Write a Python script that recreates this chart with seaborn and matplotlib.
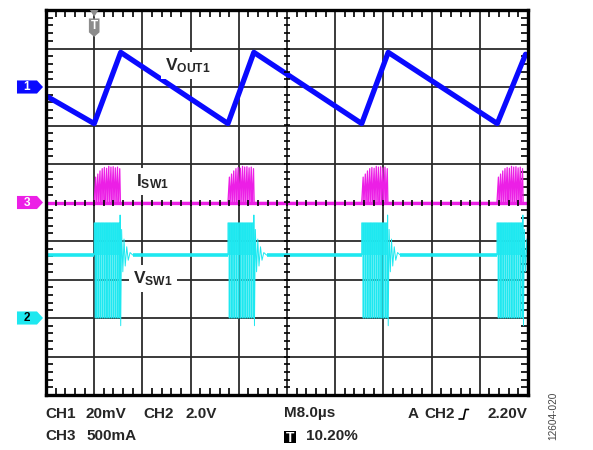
import numpy as np
import matplotlib.pyplot as plt
import matplotlib.transforms as mtransforms
from matplotlib.patches import Polygon, Rectangle
from matplotlib.lines import Line2D
from matplotlib.ticker import MultipleLocator
import seaborn as sns

sns.set_style("white")
plt.rcParams["font.family"] = ["Liberation Sans", "DejaVu Sans"]
plt.rcParams["mathtext.fontset"] = "custom"
plt.rcParams["mathtext.bf"] = "Liberation Sans:bold"
plt.rcParams["mathtext.rm"] = "Liberation Sans"

# scope settings
US_PER_DIV = 8.0
CH1_MV_PER_DIV, CH1_POS = 20.0, 8.0
CH2_V_PER_DIV, CH2_POS = 2.0, 2.0
CH3_MA_PER_DIV, CH3_POS = 500.0, 5.0
TRIG_DIV = 1.0

BLUE = "#0a0aff"
CYAN = "#1ee8f0"
MAGENTA = "#ec1fe6"

# VOUT1 sawtooth corners (us, mV)
vout_t = [0.0, 8.0, 12.4, 30.2, 34.5, 52.4, 56.8, 74.9, 79.6]
vout_mv = [-4.6, -19.0, 18.0, -19.0, 18.0, -19.0, 18.0, -19.0, 17.0]

# start of each switching burst (us)
burst_t = [8.0, 30.2, 52.4, 74.85]

# pulses inside one burst: start offset (us) and peak inductor current (mA)
pulse_t = [0.00, 0.36, 0.72, 1.09, 1.45, 1.82, 2.18, 2.54, 2.91, 3.27, 3.63, 4.00]
pulse_ma = [330, 370, 410, 440, 455, 445, 470, 460, 465, 450, 460, 440]
pulse_on = 0.24

# switch node levels (V)
vsw_idle = 3.27
vsw_high = 4.94
vsw_low = 0.0

# switch node ringing after the last pulse (us offset, V)
ring_t = [4.30, 4.40, 4.55, 4.75, 4.95, 5.15, 5.40, 5.65, 5.95, 6.40]
ring_v = [5.35, -0.40, 4.60, 2.40, 4.10, 2.70, 3.70, 3.00, 3.40, 3.27]


def to_div(t):
    return np.asarray(t) / US_PER_DIV


fig = plt.figure(figsize=(5.93, 4.5), dpi=100)
ax = fig.add_axes([46 / 593, 55 / 450, 482 / 593, 385 / 450])
ax.set_xlim(0, 10)
ax.set_ylim(0, 10)

# graticule
ax.set_xticks(range(11))
ax.set_yticks(range(11))
ax.grid(True, color="#2b2b2b", lw=1.3, zorder=0)
ax.xaxis.set_minor_locator(MultipleLocator(0.2))
ax.yaxis.set_minor_locator(MultipleLocator(0.2))
ax.tick_params(which="major", length=0, labelbottom=False, labelleft=False)
ax.tick_params(which="minor", direction="in", length=5, width=1.2, color="black",
               top=True, right=True, bottom=True, left=True)
for sp in ax.spines.values():
    sp.set_linewidth(2.4)
    sp.set_color("black")
    sp.set_zorder(6)
cross = np.arange(0.2, 10, 0.2)
ax.plot(cross, np.full_like(cross, 5.0), ls="none", marker="|", ms=5, mew=1.2, color="black", zorder=5)
ax.plot(np.full_like(cross, 5.0), cross, ls="none", marker="_", ms=5, mew=1.2, color="black", zorder=5)

# CH1: VOUT1
sns.lineplot(x=to_div(vout_t), y=CH1_POS + np.array(vout_mv) / CH1_MV_PER_DIV,
             sort=False, estimator=None, color=BLUE, lw=3.8, ax=ax, zorder=3)

# CH2: VSW1 and CH3: ISW1, built burst by burst
vt, vv = [0.0], [vsw_idle]
it, iv = [], []
for b in burst_t:
    vt.append(b)
    vv.append(vsw_idle)
    for p, pk in zip(pulse_t, pulse_ma):
        vt += [b + p, b + p, b + p + pulse_on, b + p + pulse_on]
        vv += [vv[-1], vsw_high, vsw_high, vsw_low]
        it += [b + p, b + p + pulse_on, b + p + pulse_on + 0.11]
        iv += [0.0, pk, 0.0]
    for rt, rv in zip(ring_t, ring_v):
        vt.append(b + rt)
        vv.append(rv)

sns.lineplot(x=to_div(vt), y=CH2_POS + np.array(vv) / CH2_V_PER_DIV,
             sort=False, estimator=None, color=CYAN, lw=0.7, ax=ax, zorder=3)
idle_start = [0.0] + [b + ring_t[-1] for b in burst_t[:-1]]
idle_end = burst_t
ax.hlines(np.full(len(idle_end), CH2_POS + vsw_idle / CH2_V_PER_DIV),
          to_div(idle_start), to_div(idle_end), color=CYAN, lw=2.6, zorder=3)
for b in burst_t:
    ax.fill_between(to_div([b, b + pulse_t[-1] + pulse_on]),
                    CH2_POS + vsw_idle / CH2_V_PER_DIV, CH2_POS + vsw_high / CH2_V_PER_DIV,
                    color=CYAN, lw=0, alpha=0.9, zorder=3)
    ax.fill_between(to_div([b, b + pulse_t[-1] + pulse_on]),
                    CH2_POS + vsw_low / CH2_V_PER_DIV, CH2_POS + vsw_idle / CH2_V_PER_DIV,
                    color=CYAN, lw=0, alpha=0.35, zorder=3)

ax.axhline(CH3_POS, color=MAGENTA, lw=2.4, zorder=3)
ax.fill(to_div(it), CH3_POS + np.array(iv) / CH3_MA_PER_DIV, color=MAGENTA, alpha=0.5, lw=0, zorder=3)
sns.lineplot(x=to_div(it), y=CH3_POS + np.array(iv) / CH3_MA_PER_DIV,
             sort=False, estimator=None, color=MAGENTA, lw=0.9, ax=ax, zorder=3)

# trace labels
lab = dict(fontsize=12.5, va="baseline", ha="left", zorder=4,
           bbox=dict(fc="white", ec="none", pad=3))
ax.text(2.47, 8.44, r"$\mathbf{V_{OUT1}}$", **lab)
ax.text(1.87, 5.43, r"$\mathbf{I_{SW1}}$", **lab)
ax.text(1.80, 2.91, r"$\mathbf{V_{SW1}}$", **lab)

# channel markers on the left
tr = mtransforms.blended_transform_factory(ax.transAxes, ax.transData)
x0, x1, x2, h = -0.0602, -0.0187, -0.0062, 0.17
for pos, name, fc, tc in [(CH1_POS, "1", BLUE, "white"), (CH3_POS, "3", MAGENTA, "white"),
                          (CH2_POS, "2", CYAN, "black")]:
    ax.add_patch(Polygon([(x0, pos - h), (x1, pos - h), (x2, pos), (x1, pos + h), (x0, pos + h)],
                         closed=True, fc=fc, ec="none", transform=tr, clip_on=False))
    ax.text((x0 + x1) / 2, pos, name, transform=tr, color=tc, fontsize=8.5,
            fontweight="bold", ha="center", va="center")

# trigger marker on top
tt = mtransforms.blended_transform_factory(ax.transData, ax.transAxes)
w = 0.11
ax.add_patch(Polygon([(TRIG_DIV - w * 0.8, 1.0), (TRIG_DIV + w * 0.8, 1.0), (TRIG_DIV, 0.982)],
                     closed=True, fc="#8c8c8c", ec="none", transform=tt, clip_on=False, zorder=7))
ax.add_patch(Polygon([(TRIG_DIV - w, 0.978), (TRIG_DIV + w, 0.978), (TRIG_DIV + w, 0.942),
                      (TRIG_DIV, 0.930), (TRIG_DIV - w, 0.942)],
                     closed=True, fc="#8c8c8c", ec="none", transform=tt, clip_on=False, zorder=7))
ax.text(TRIG_DIV, 0.958, "T", transform=tt, color="white", fontsize=8.5, fontweight="bold",
        ha="center", va="center", zorder=8)


# readout text under the screen
def ftext(px, py, s, **kw):
    kw.setdefault("fontsize", 11)
    kw.setdefault("fontweight", "bold")
    kw.setdefault("va", "center")
    fig.text(px / 593, 1 - py / 450, s, **kw)


ftext(45, 413.5, "CH1")
ftext(86, 413.5, "20mV")
ftext(143, 413.5, "CH2")
ftext(185, 413.5, "2.0V")
ftext(45, 436.5, "CH3")
ftext(86, 436.5, "500mA")
ftext(284, 413.5, "M8.0µs")
fig.add_artist(Rectangle((284 / 593, 1 - 443 / 450), 12 / 593, 12 / 450,
                         transform=fig.transFigure, fc="black", ec="none"))
ftext(290, 437.5, "T", color="white", ha="center", fontsize=10)
ftext(306, 436.5, "10.20%")
ftext(408, 413.5, "A")
ftext(424, 413.5, "CH2")
fig.add_artist(Line2D(np.array([459, 463.5, 465.5, 468.5]) / 593,
                      1 - np.array([419, 419, 409.5, 409.5]) / 450,
                      transform=fig.transFigure, color="black", lw=1.2))
ftext(527, 413.5, "2.20V", ha="right")
ftext(553.5, 416, "12604-020", rotation=90, fontweight="normal", fontsize=7.2,
      color="#444444", ha="center")

fig.savefig("out.png", dpi=100)
